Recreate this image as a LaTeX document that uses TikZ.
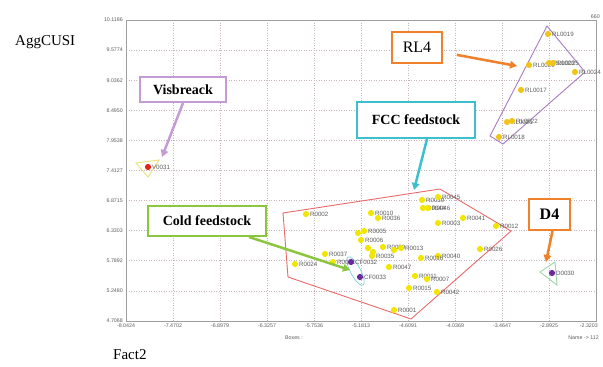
\documentclass[tikz,border=0pt]{standalone}
\usepackage{fontspec}
\setmainfont{Liberation Serif}
\newfontfamily\labsans{Liberation Sans}
\usetikzlibrary{arrows.meta}
\definecolor{gridc}{HTML}{C8B4BE}
\definecolor{framec}{HTML}{9E9E9E}
\definecolor{ptyel}{HTML}{F2E600}
\definecolor{rlyel}{HTML}{F0C419}
\definecolor{ptred}{HTML}{E5231B}
\definecolor{ptpur}{HTML}{6A2C9A}
\definecolor{lilac}{HTML}{C49BD4}
\definecolor{orng}{HTML}{F0802A}
\definecolor{cyanb}{HTML}{3CC0CC}
\definecolor{greenb}{HTML}{8CC63F}
\definecolor{fccred}{HTML}{E86A6A}
\definecolor{rlpur}{HTML}{A77DC0}
\definecolor{labc}{HTML}{5E5E5E}
\definecolor{trigyel}{HTML}{E8E27A}
\definecolor{triggrn}{HTML}{9FD6B0}
\newcommand\dotpt[5]{\node[ptdot,fill=#4,label={[ptlab]right:#5}] (#1) at (#2,#3) {};}
\begin{document}
\begin{tikzpicture}[x=1pt,y=-1pt,
  ptdot/.style={circle,inner sep=0pt,minimum size=6.2pt},
  ptlab/.style={font=\labsans\fontsize{6.2}{7}\selectfont,text=labc,inner sep=0.6pt},
  axlab/.style={font=\labsans\fontsize{5.3}{6}\selectfont,text=labc,inner sep=1pt},
  annot/.style={line width=2pt,fill=white,text=black,font=\fontsize{14}{16}\selectfont\bfseries,inner sep=0pt},
  pointer/.style={line width=2.5pt,-{Triangle[length=7pt,width=7.5pt]}},
  gridline/.style={gridc,line width=0.7pt,dash pattern=on 1pt off 1.5pt},
  title/.style={font=\fontsize{15}{18}\selectfont,inner sep=0pt}
]
\useasboundingbox (0,0) rectangle (603,367);
\fill[white] (0,0) rectangle (603,367);
% grid
\foreach \i in {1,...,9} {
  \draw[gridline] ({126+47*\i},20) -- ({126+47*\i},321);
  \draw[gridline] (126,{20+30.1*\i}) -- (596,{20+30.1*\i});
}
\draw[framec,line width=0.9pt] (126,20) rectangle (596,321);
% axis labels
\foreach \v [count=\i from 0] in {10.1186,9.5774,9.0362,8.4950,7.9538,7.4127,6.8715,6.3303,5.7892,5.2480,4.7068}
  \node[axlab,anchor=east] (yl\i) at (124,{20+30.1*\i}) {\v};
\foreach \v [count=\i from 0] in {-8.0424,-7.4702,-6.8979,-6.3257,-5.7536,-5.1813,-4.6091,-4.0369,-3.4647,-2.8925}
  \node[axlab,anchor=north] (xl\i) at ({126+47*\i},323) {\v};
\node[axlab,anchor=north east] (xl10) at (599,323) {-2.3203};
\node[axlab,anchor=north] (boxes) at (294,335) {Boxes :};
\node[axlab,anchor=north east] (namelab) at (600,335) {Name -> 112};
\node[axlab,anchor=south east] (n660) at (601,20) {660};
\node[title,anchor=west] (agg) at (15,42) {AggCUSI};
\node[title,anchor=west] (fact) at (113,355) {Fact2};
% group outlines
\draw[fccred,line width=0.9pt] (283,213) -- (440,189) -- (511,231) -- (411,319) -- (288,277) -- cycle;
\draw[rlpur,line width=0.9pt] (547,26) -- (585,72) -- (503,144) -- (490,136) -- cycle;
\draw[trigyel,line width=0.9pt] (136,163) -- (159,160) -- (148,177) -- cycle;
\draw[triggrn,line width=0.9pt] (540,272) -- (555,262) -- (557,285) -- cycle;
\draw[cyanb!70,line width=0.7pt,shift={(355.5,271)},rotate=-62] (0,0) ellipse [x radius=16pt,y radius=5pt];
% RL points
\dotpt{rl19}{548}{34}{rlyel}{RL0019}
\dotpt{rl20}{529}{65}{rlyel}{RL0020}
\dotpt{rl23}{549}{63}{rlyel}{RL0023}
\dotpt{rl25}{553}{63}{rlyel}{RL0025}
\dotpt{rl24}{575}{72}{rlyel}{RL0024}
\dotpt{rl17}{521}{90}{rlyel}{RL0017}
\dotpt{rl21}{507}{122}{rlyel}{RL0021}
\dotpt{rl22}{512}{121}{rlyel}{RL0022}
\dotpt{rl18}{499}{137}{rlyel}{RL0018}
% other groups
\dotpt{v31}{148}{167}{ptred}{V0031}
\dotpt{d30}{552}{273}{ptpur}{D0030}
% FCC points
\dotpt{r02}{306}{214}{ptyel}{R0002}
\dotpt{r10}{371}{213}{ptyel}{R0010}
\dotpt{r36}{378}{218}{ptyel}{R0036}
\dotpt{r04}{358}{233}{ptyel}{}
\dotpt{r05}{364}{231}{ptyel}{R0005}
\dotpt{r06}{361}{240}{ptyel}{R0006}
\dotpt{r29}{368}{248}{ptyel}{}
\dotpt{r30}{373}{252}{ptyel}{}
\dotpt{r09}{383}{247}{ptyel}{R0009}
\dotpt{r27}{394}{250}{ptyel}{}
\dotpt{r13}{401}{248}{ptyel}{R0013}
\dotpt{r35}{372}{256}{ptyel}{R0035}
\dotpt{r37}{325}{254}{ptyel}{R0037}
\dotpt{r31}{333}{262}{ptyel}{R0031}
\dotpt{r24}{295}{264}{ptyel}{R0024}
\dotpt{r47}{389}{267}{ptyel}{R0047}
\dotpt{r39}{422}{200}{ptyel}{R0039}
\dotpt{r45}{438}{197}{ptyel}{R0045}
\dotpt{r44}{423}{208}{ptyel}{R0044}
\dotpt{r46}{428}{208}{ptyel}{R0046}
\dotpt{r03}{438}{223}{ptyel}{R0003}
\dotpt{r41}{463}{218}{ptyel}{R0041}
\dotpt{r12}{496}{226}{ptyel}{R0012}
\dotpt{r26}{480}{249}{ptyel}{R0026}
\dotpt{r40}{438}{256}{ptyel}{R0040}
\dotpt{r16}{421}{258}{ptyel}{R0016}
\dotpt{r11}{415}{276}{ptyel}{R0011}
\dotpt{r07}{427}{279}{ptyel}{R0007}
\dotpt{r15}{409}{288}{ptyel}{R0015}
\dotpt{r42}{437}{292}{ptyel}{R0042}
\dotpt{r01}{394}{310}{ptyel}{R0001}
% cold feedstock points
\dotpt{cf32}{351}{262}{ptpur}{CF0032}
\dotpt{cf33}{360}{277}{ptpur}{CF0033}
% arrow targets
\coordinate (visA) at (162,157);
\coordinate (rlA) at (517,66);
\coordinate (fccA) at (414,190);
\coordinate (coldA) at (350,270);
\coordinate (d4A) at (546,262);
% annotation boxes
\node[annot,draw=lilac,minimum width=86pt,minimum height=25pt] (vis) at (183,89.5) {Visbreack};
\node[annot,draw=orng,minimum width=50pt,minimum height=31pt,font=\fontsize{16}{18}\selectfont] (rl4) at (417,47.5) {RL4};
\node[annot,draw=cyanb,minimum width=118pt,minimum height=36pt] (fcc) at (416,120) {FCC feedstock};
\node[annot,draw=greenb,minimum width=118pt,minimum height=30pt] (cold) at (207,221) {Cold feedstock};
\node[annot,draw=orng,minimum width=41pt,minimum height=31pt,font=\fontsize{16}{18}\selectfont\bfseries] (d4) at (549.5,214.5) {D4};
% pointers
\draw[pointer,lilac] (vis.south) -- (visA);
\draw[pointer,orng,shorten <=14pt] (rl4) -- (rlA);
\draw[pointer,cyanb] ([xshift=11pt]fcc.south) -- (fccA);
\draw[pointer,greenb] ([xshift=-18pt]cold.south east) -- (coldA);
\draw[pointer,orng] ([xshift=3pt]d4.south) -- (d4A);
\end{tikzpicture}
\end{document}
